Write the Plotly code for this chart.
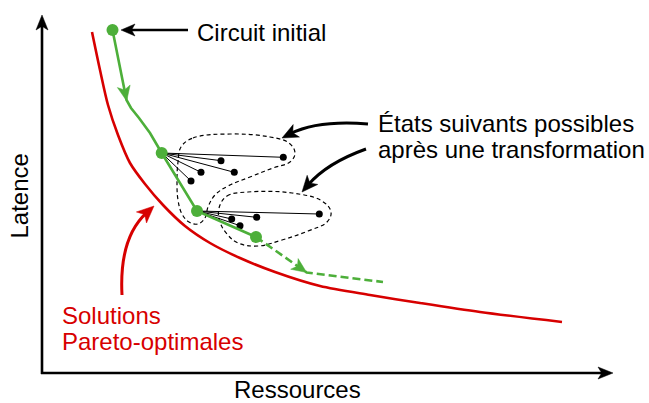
import math
import plotly.graph_objects as go

# ---------------- data (pixel-space diagram coordinates) ----------------
pareto_x = [92, 100, 108, 118, 130, 145, 163, 185, 210, 240, 275, 320, 370, 420, 480, 562]
pareto_y = [32, 70, 105, 135, 163, 184, 205, 226, 243, 258, 272, 286, 295, 303, 312, 322]

path_x = [112.5, 126.5, 131, 139, 150, 161.7, 197, 256]
path_y = [30, 100, 108, 118, 133, 153, 211, 237]

states_x = [112.5, 161.7, 197, 256]
states_y = [30, 153, 211, 237]

future_x = [256, 306.7, 383]
future_y = [237, 272.5, 282]

succ1_x = [283.3, 221, 234.3, 201, 191]
succ1_y = [157.3, 160.7, 172.3, 172.3, 181]

succ2_x = [319.3, 256.7, 231.7, 240]
succ2_y = [214, 217.3, 219, 225.7]

blob1_x = [181, 193, 230, 270, 289, 295, 290, 273, 250, 228, 215, 208, 205, 198, 189, 182, 178, 177, 178, 181]
blob1_y = [147, 138, 134, 137, 143, 153, 162, 168, 177, 186, 195, 207, 218, 224, 222, 214, 200, 181, 162, 147]

blob2_x = [219, 227, 248, 292, 322, 331, 327, 308, 282, 258, 238, 227, 220, 219]
blob2_y = [208, 196, 192, 193, 201, 212, 222, 231, 240, 246, 243, 234, 222, 208]

label_initial = "Circuit initial"
label_states = ["États suivants possibles", "après une transformation"]
label_pareto = ["Solutions", "Pareto-optimales"]
label_x = "Ressources"
label_y = "Latence"

RED = "#D70000"
GREEN = "#4DAF3A"
FONT = "Liberation Sans, Arial, sans-serif"

W, H = 649, 403

fig = go.Figure()

# Pareto front
fig.add_trace(go.Scatter(x=pareto_x, y=pareto_y, mode="lines",
                         line=dict(color=RED, width=2.6, shape="spline", smoothing=0.8),
                         hoverinfo="skip"))

# dashed neighbourhood outlines
for bx, by in [(blob1_x, blob1_y), (blob2_x, blob2_y)]:
    fig.add_trace(go.Scatter(x=bx, y=by, mode="lines",
                             line=dict(color="black", width=1.2, dash="4px,3px", shape="spline", smoothing=1.1),
                             hoverinfo="skip"))

# fan lines to successor states
def fan(ox, oy, xs, ys):
    fx, fy = [], []
    for x, y in zip(xs, ys):
        fx += [ox, x, None]
        fy += [oy, y, None]
    return fx, fy

for (ox, oy), xs, ys in [((states_x[1], states_y[1]), succ1_x, succ1_y),
                         ((states_x[2], states_y[2]), succ2_x, succ2_y)]:
    fx, fy = fan(ox, oy, xs, ys)
    fig.add_trace(go.Scatter(x=fx, y=fy, mode="lines", line=dict(color="black", width=1),
                             hoverinfo="skip"))
    fig.add_trace(go.Scatter(x=xs, y=ys, mode="markers",
                             marker=dict(color="black", size=7), hoverinfo="skip"))

# green optimisation path
fig.add_trace(go.Scatter(x=path_x, y=path_y, mode="lines",
                         line=dict(color=GREEN, width=2.6), hoverinfo="skip"))
fig.add_trace(go.Scatter(x=future_x, y=future_y, mode="lines",
                         line=dict(color=GREEN, width=2.6, dash="8px,4px"), hoverinfo="skip"))
fig.add_trace(go.Scatter(x=states_x, y=states_y, mode="markers",
                         marker=dict(color=GREEN, size=12), hoverinfo="skip"))

# ---------------- arrows (decoration) ----------------
shapes = []

def head(tip, frm, length, width, color, notch=0.25):
    tx, ty = tip
    fx, fy = frm
    dx, dy = tx - fx, ty - fy
    n = math.hypot(dx, dy)
    ux, uy = dx / n, dy / n
    px, py = -uy, ux
    bx, by = tx - ux * length, ty - uy * length
    p1 = (bx + px * width / 2, by + py * width / 2)
    p2 = (tx - ux * length * (1 - notch), ty - uy * length * (1 - notch))
    p3 = (bx - px * width / 2, by - py * width / 2)
    path = f"M{tx},{ty} L{p1[0]},{p1[1]} L{p2[0]},{p2[1]} L{p3[0]},{p3[1]} Z"
    shapes.append(dict(type="path", xref="x", yref="y", path=path,
                       fillcolor=color, line=dict(color=color, width=0.5)))
    return (tx - ux * length * 0.6, ty - uy * length * 0.6)

def straight_arrow(tail, tip, color, lw, length, width):
    end = head(tip, tail, length, width, color)
    shapes.append(dict(type="line", xref="x", yref="y", x0=tail[0], y0=tail[1],
                       x1=end[0], y1=end[1], line=dict(color=color, width=lw)))

def curved_arrow(tail, ctrl, tip, color, lw, length, width):
    end = head(tip, ctrl, length, width, color)
    path = f"M{tail[0]},{tail[1]} Q{ctrl[0]},{ctrl[1]} {end[0]},{end[1]}"
    shapes.append(dict(type="path", xref="x", yref="y", path=path,
                       line=dict(color=color, width=lw)))

# axes
straight_arrow((42, 374), (42, 15), "black", 2.6, 15, 12)
straight_arrow((41, 373), (613, 373), "black", 2.6, 15, 12)
# circuit initial pointer
straight_arrow((188, 30), (121, 30), "black", 2.6, 14, 12)
# states pointers
curved_arrow((368, 124), (318, 120), (282, 138), "black", 3, 16, 14)
curved_arrow((366, 149), (327, 163), (302, 192), "black", 3, 16, 14)
# pareto pointer
curved_arrow((122, 295), (119, 238), (154, 206), RED, 3, 17, 15)
# green arrowheads
head((126.7, 101), (112.5, 30), 15, 13, GREEN)
head((306.7, 272.5), (256, 237), 15, 13, GREEN)

# ---------------- text ----------------
ann = []
def txt(s, x, y, color="black", anchor="left", angle=0):
    ann.append(dict(text=s, x=x, y=y, xref="x", yref="y", showarrow=False,
                    xanchor=anchor, yanchor="middle", textangle=angle,
                    font=dict(family=FONT, size=24, color=color)))

txt(label_initial, 195, 32)
txt(label_states[0], 376, 123)
txt(label_states[1], 376, 149)
txt(label_pareto[0], 60, 315, RED)
txt(label_pareto[1], 60, 341.5, RED)
txt(label_x, 297, 389, anchor="center")
txt(label_y, 19, 196.5, anchor="center", angle=-90)

fig.update_layout(
    width=W, height=H, autosize=False,
    margin=dict(l=0, r=0, t=0, b=0),
    paper_bgcolor="white", plot_bgcolor="white",
    showlegend=False,
    xaxis=dict(range=[0, W], visible=False, fixedrange=True),
    yaxis=dict(range=[H, 0], visible=False, fixedrange=True),
    shapes=shapes, annotations=ann,
)

fig.write_html("out.html", config=dict(displayModeBar=False),
               post_script="document.body.style.margin='0';document.body.style.overflow='hidden';")
